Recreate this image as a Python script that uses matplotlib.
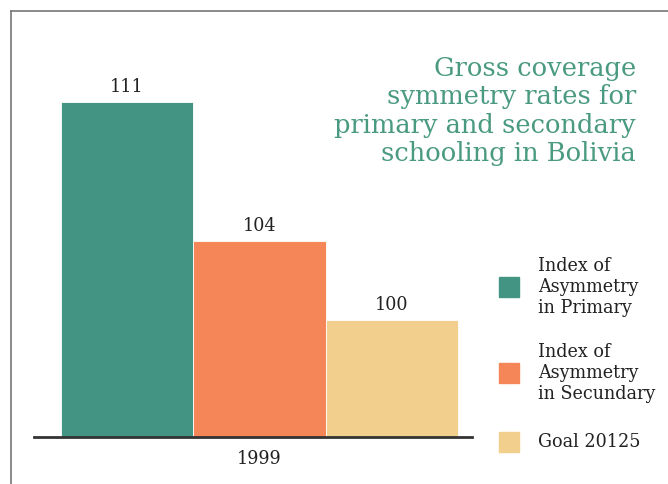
import matplotlib
matplotlib.use("Agg")
import matplotlib.pyplot as plt
from matplotlib.lines import Line2D
from matplotlib.patches import Rectangle

categories = ["Index of\nAsymmetry\nin Primary", "Index of\nAsymmetry\nin Secundary", "Goal 20125"]
values = [111, 104, 100]
year_label = "1999"
colors = ["#439482", "#F58657", "#F2CF8C"]
title = "Gross coverage\nsymmetry rates for\nprimary and secondary\nschooling in Bolivia"

W, H = 668, 484
fig = plt.figure(figsize=(W / 100, H / 100), dpi=100)

def fx(px):
    return px / W

def fy(py):
    return 1 - py / H

# frame lines
fig.add_artist(Line2D([fx(11), fx(11)], [fy(11), 0], color="#777777", lw=1.2))
fig.add_artist(Line2D([fx(11), 1], [fy(11), fy(11)], color="#777777", lw=1.2))

ax_left, ax_right = 34, 472
ax_bottom, ax_top = 437, 62
ax = fig.add_axes([fx(ax_left), fy(ax_bottom), fx(ax_right - ax_left), (ax_bottom - ax_top) / H])
ax.set_axis_off()

pos = list(range(len(values)))
ax.bar(pos, values, width=1.0, color=colors, edgecolor="white", linewidth=0.6)
unit = (458 - 61) / 3
ax.set_xlim(-0.5 - (61 - ax_left) / unit, 2.5 + (ax_right - 458) / unit)
ax.set_ylim(94.1, 113)

serif = dict(family="DejaVu Serif", fontstretch="condensed")
for p, v in zip(pos, values):
    ax.annotate(str(v), (p, v), xytext=(0, 4), textcoords="offset points",
                ha="center", va="bottom", fontsize=14, color="#222222", **serif)

# baseline
ax.axhline(94.1, color="#333333", lw=2, clip_on=False)
ax.text(1, -0.035, year_label, transform=ax.get_xaxis_transform(), ha="center", va="top",
        fontsize=14, color="#222222", **serif)

# title
fig.text(fx(636), fy(56), title, ha="right", va="top", fontsize=18.5, color="#4A9A82",
         linespacing=1.17, family="DejaVu Serif")

# legend
leg_y = [287, 373, 442]
for c, lab, y in zip(colors, categories, leg_y):
    fig.add_artist(Rectangle((fx(499), fy(y + 10)), fx(20), 20 / H, color=c,
                             transform=fig.transFigure))
    fig.text(fx(538), fy(y), lab, ha="left", va="center", fontsize=14,
             color="#222222", linespacing=1.2, **serif)

fig.savefig("out.png", dpi=100)
